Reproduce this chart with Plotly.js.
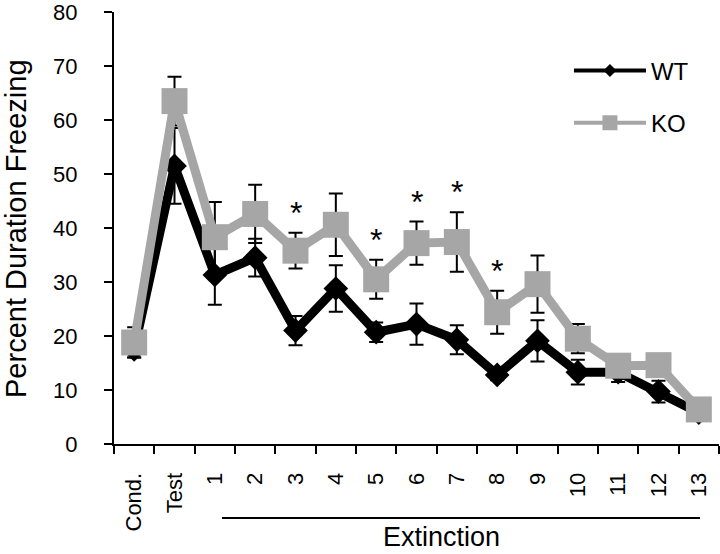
<!DOCTYPE html>
<html>
<head>
<meta charset="utf-8">
<script src="https://cdn.plot.ly/plotly-3.0.1.min.js"></script>
<style>html,body{margin:0;padding:0;background:#fff;}#chart{width:720px;height:554px;}</style>
</head>
<body>
<div id="chart"></div>
<script>
var categories = ["Cond.", "Test", "1", "2", "3", "4", "5", "6", "7", "8", "9", "10", "11", "12", "13"];
var wtValues = [17.5, 51.5, 31.3, 34.5, 21.0, 28.8, 20.7, 22.2, 19.3, 12.8, 19.1, 13.3, 13.3, 9.7, 5.8];
var wtErrors = [1.5, 7.0, 5.5, 3.5, 2.7, 4.3, 1.8, 3.8, 2.7, 1.0, 3.8, 2.3, 1.8, 2.0, 0.8];
var koValues = [18.8, 63.5, 38.3, 42.6, 35.8, 40.6, 30.5, 37.2, 37.4, 24.4, 29.6, 19.5, 14.5, 14.6, 6.4];
var koErrors = [2.8, 4.5, 6.5, 5.4, 3.3, 5.8, 3.6, 4.0, 5.5, 4.0, 5.3, 2.7, 1.0, 1.0, 0.8];
var significant = ["3", "5", "6", "7", "8"];
var seriesNames = ["WT", "KO"];
var yTitle = "Percent Duration Freezing";
var xGroupLabel = "Extinction";

var FONT = "Liberation Sans, Arial, sans-serif";
var GRAY = "#a6a6a6";

var traces = [
  {
    type: "scatter", mode: "lines+markers", x: categories, y: wtValues,
    showlegend: false, cliponaxis: false,
    line: {color: "#000", width: 9},
    marker: {symbol: "diamond", size: 19, color: "#000"},
    error_y: {type: "data", array: wtErrors, visible: true, color: "#000", thickness: 2, width: 7}
  },
  {
    type: "scatter", mode: "lines+markers", x: categories, y: koValues,
    showlegend: false, cliponaxis: false,
    line: {color: GRAY, width: 9},
    marker: {symbol: "square", size: 26, color: GRAY},
    error_y: {type: "data", array: koErrors, visible: true, color: "#000", thickness: 2, width: 7}
  },
  {
    type: "scatter", mode: "lines+markers", x: [null], y: [null], name: seriesNames[0],
    legendgroup: "a", line: {color: "#000", width: 4},
    marker: {symbol: "diamond", size: 10, color: "#000"}
  },
  {
    type: "scatter", mode: "lines+markers", x: [null], y: [null], name: seriesNames[1],
    legendgroup: "b", line: {color: GRAY, width: 4},
    marker: {symbol: "square", size: 15, color: GRAY}
  }
];

var annotations = significant.map(function (c) {
  var i = categories.indexOf(c);
  return {
    x: i, y: koValues[i] + koErrors[i], xref: "x", yref: "y",
    text: "*", showarrow: false, yanchor: "bottom", yshift: 0,
    font: {family: FONT, size: 32, color: "#000"}
  };
});
annotations.push({
  xref: "paper", yref: "paper", x: 0.541, y: -0.2535, xanchor: "center", yanchor: "bottom",
  text: xGroupLabel, showarrow: false, font: {family: FONT, size: 27, color: "#000"}
});
annotations.push({
  xref: "paper", yref: "paper", x: -0.162, y: 0.5, xanchor: "center", yanchor: "middle",
  text: yTitle, textangle: -90, showarrow: false, font: {family: FONT, size: 29, color: "#000"}
});

var layout = {
  width: 720, height: 554,
  margin: {l: 114, r: 1, t: 12, b: 110},
  paper_bgcolor: "#fff", plot_bgcolor: "#fff",
  font: {family: FONT, color: "#000"},
  xaxis: {
    type: "category", range: [-0.5, 14.5], tickson: "boundaries",
    showgrid: false, zeroline: false, showline: true, linecolor: "#000", linewidth: 2,
    ticks: "outside", ticklen: 8, tickwidth: 2, tickcolor: "#000",
    tickangle: -90, ticklabelstandoff: 18, ticklabeloverflow: "allow",
    tickfont: {family: FONT, size: 22, color: "#000"}
  },
  yaxis: {
    range: [0, 80], dtick: 10, tick0: 0,
    showgrid: false, zeroline: false, showline: true, linecolor: "#000", linewidth: 2,
    ticks: "outside", ticklen: 8, tickwidth: 2, tickcolor: "#000",
    ticklabelstandoff: 22, ticklabeloverflow: "allow",
    tickfont: {family: FONT, size: 22, color: "#000"}
  },
  showlegend: true,
  legend: {
    x: 0.752, y: 0.9155, xanchor: "left", yanchor: "top",
    bgcolor: "rgba(0,0,0,0)", font: {family: FONT, size: 24, color: "#000"},
    itemwidth: 72, traceorder: "grouped", tracegroupgap: 18
  },
  shapes: [{
    type: "line", xref: "paper", yref: "paper", x0: 0.1785, x1: 0.9686, y0: -0.1713, y1: -0.1713,
    line: {color: "#000", width: 2}
  }],
  annotations: annotations
};

Plotly.newPlot("chart", traces, layout, {displayModeBar: false, staticPlot: true});
</script>
</body>
</html>
